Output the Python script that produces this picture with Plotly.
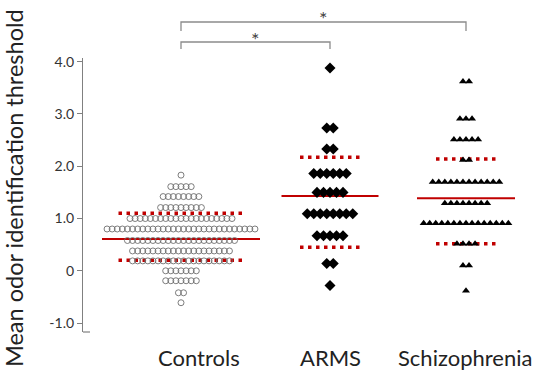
import plotly.graph_objects as go

# ---- data ----
groups = ["Controls", "ARMS", "Schizophrenia"]

controls_levels = [1.83, 1.61, 1.42, 1.21, 1.0, 0.80, 0.58, 0.38, 0.19, 0.0, -0.19, -0.42, -0.61]
controls_counts = [1, 5, 8, 9, 21, 30, 22, 20, 20, 7, 7, 2, 1]

arms_levels = [3.88, 2.73, 2.33, 1.86, 1.50, 1.09, 0.67, 0.14, -0.28]
arms_counts = [1, 2, 2, 6, 5, 8, 5, 2, 1]

schizo_levels = [3.62, 2.91, 2.51, 2.12, 1.70, 1.29, 0.91, 0.52, 0.10, -0.38]
schizo_counts = [2, 3, 5, 2, 12, 8, 15, 4, 2, 1]

means = [0.61, 1.43, 1.39]
sd_upper = [1.10, 2.17, 2.14]
sd_lower = [0.20, 0.45, 0.52]

y_tickvals = [-1, 0, 1, 2, 3, 4]
y_ticktext = ["-1.0", "0", "1.0", "2.0", "3.0", "4.0"]

# ---- layout constants (pixel-like x units) ----
W, H = 544, 373
ML, MR, MT, MB = 83, 4, 58, 41
PW = W - ML - MR
PH = H - MT - MB
centers = [98, 247, 383]
spacing = [5.1, 6.5, 6.05]
solid_half = [79, 48.5, 49]
dot_half = [62.5, 30, 30]
RED = "#c00000"

def swarm(levels, counts, cx, sp):
    xs, ys = [], []
    for v, n in zip(levels, counts):
        for i in range(n):
            xs.append(cx + (i - (n - 1) / 2) * sp)
            ys.append(v)
    return xs, ys

fig = go.Figure()

# mean and SD lines
for k in range(3):
    c = centers[k]
    fig.add_trace(go.Scatter(x=[c - solid_half[k], c + solid_half[k]], y=[means[k], means[k]],
                             mode="lines", line=dict(color=RED, width=2), hoverinfo="skip"))
    for v in (sd_upper[k], sd_lower[k]):
        fig.add_trace(go.Scatter(x=[c - dot_half[k], c + dot_half[k]], y=[v, v],
                                 mode="lines", line=dict(color=RED, width=3.5, dash="3.5px,4.5px"),
                                 hoverinfo="skip"))

cx, cy = swarm(controls_levels, controls_counts, centers[0], spacing[0])
fig.add_trace(go.Scatter(x=cx, y=cy, mode="markers",
                         marker=dict(symbol="circle-open", size=6, color="#6e6e6e",
                                     line=dict(width=0.9, color="#6e6e6e"))))
ax, ay = swarm(arms_levels, arms_counts, centers[1], spacing[1])
fig.add_trace(go.Scatter(x=ax, y=ay, mode="markers",
                         marker=dict(symbol="diamond", size=8.5, color="black")))
sx, sy = swarm(schizo_levels, schizo_counts, centers[2], spacing[2])
fig.add_trace(go.Scatter(x=sx, y=sy, mode="markers",
                         marker=dict(symbol="triangle-up", size=7, color="black")))

def py(pix):
    return (H - MB - pix) / PH

def px(xpix):
    return (xpix - ML) / PW

shapes = []
# brackets
GRAY = "#8c8c8c"
for (a, b, ytop, ybot) in [(centers[0], centers[2], 22, 31), (centers[0], centers[1], 42, 49)]:
    shapes.append(dict(type="path", xref="paper", yref="paper",
                       path=f"M {px(a + ML)} {py(ybot)} L {px(a + ML)} {py(ytop)} L {px(b + ML)} {py(ytop)} L {px(b + ML)} {py(ybot)}",
                       line=dict(color=GRAY, width=1.3)))
# small bottom axis stub
shapes.append(dict(type="line", xref="paper", yref="paper", x0=0, x1=7 / PW, y0=0, y1=0,
                   line=dict(color="#808080", width=1.2)))

annotations = []
annotations.append(dict(text="*", x=px((centers[0] + centers[2]) / 2 + ML), y=py(18), xref="paper", yref="paper",
                        xanchor="center", yanchor="middle",
                        showarrow=False, font=dict(size=20, color="#444", family="Lato")))
annotations.append(dict(text="*", x=px((centers[0] + centers[1]) / 2 + ML), y=py(39), xref="paper", yref="paper",
                        xanchor="center", yanchor="middle",
                        showarrow=False, font=dict(size=20, color="#444", family="Lato")))
label_x = [199, 330, 465]
for g, lx in zip(groups, label_x):
    annotations.append(dict(text=g, x=px(lx), y=py(357), xref="paper", yref="paper",
                            xanchor="center", yanchor="middle",
                            showarrow=False, font=dict(size=22, color="#222", family="Lato")))
annotations.append(dict(text="Mean odor identification threshold", x=px(14), y=py(188),
                        xref="paper", yref="paper", xanchor="center", yanchor="middle",
                        textangle=-90, showarrow=False,
                        font=dict(size=23.5, color="#222", family="Lato")))

fig.update_layout(
    width=W, height=H,
    margin=dict(l=ML, r=MR, t=MT, b=MB, pad=0, autoexpand=False),
    paper_bgcolor="white", plot_bgcolor="white",
    showlegend=False,
    shapes=shapes, annotations=annotations,
    font=dict(family="Lato", color="#333"),
    xaxis=dict(range=[0, PW], visible=False, fixedrange=True, automargin=False),
    yaxis=dict(range=[-1.17, 4.07], tickvals=y_tickvals, ticktext=y_ticktext,
               showline=True, linecolor="#808080", linewidth=1.2,
               ticks="outside", ticklen=5, tickcolor="#808080",
               showgrid=False, zeroline=False, automargin=False,
               tickfont=dict(size=14, color="#333", family="Lato")),
)

fig.write_html("out.html", config={"displayModeBar": False},
               post_script="document.body.style.margin='0';document.body.style.overflow='hidden';")
